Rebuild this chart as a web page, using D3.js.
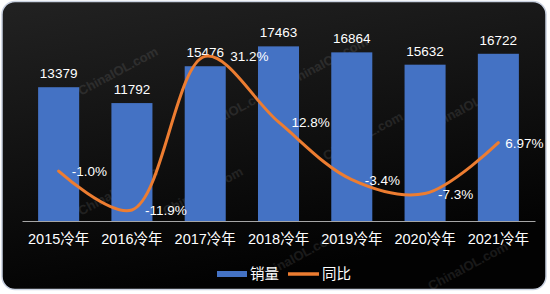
<!DOCTYPE html>
<html>
<head>
<meta charset="utf-8">
<script src="https://cdn.jsdelivr.net/npm/d3@7"></script>
<style>
  body { margin: 0; background: #fff; }
  svg { display: block; font-family: "Liberation Sans", Arial, "Noto Sans CJK SC", sans-serif; }
</style>
</head>
<body>
<svg id="chart"></svg>
<script>
// Data
const years = ["2015冷年", "2016冷年", "2017冷年", "2018冷年", "2019冷年", "2020冷年", "2021冷年"];
const sales = [13379, 11792, 15476, 17463, 16864, 15632, 16722];
const yoy = [-1.0, -11.9, 31.2, 12.8, -3.4, -7.3, 6.97];
const yoyLabels = ["-1.0%", "-11.9%", "31.2%", "12.8%", "-3.4%", "-7.3%", "6.97%"];
const legendNames = ["销量", "同比"];

const width = 550, height = 294;
const blue = "#4472C4", orange = "#ED7D31";

const svg = d3.select("#chart")
  .attr("width", width)
  .attr("height", height);

// background panel
const defs = svg.append("defs");
const grad = defs.append("linearGradient")
  .attr("id", "bg").attr("x1", 0).attr("y1", 0).attr("x2", 0.3).attr("y2", 1);
grad.append("stop").attr("offset", "0%").attr("stop-color", "#222");
grad.append("stop").attr("offset", "100%").attr("stop-color", "#020202");

svg.append("rect")
  .attr("x", 2).attr("y", 1.5)
  .attr("width", 544).attr("height", 288)
  .attr("rx", 13)
  .attr("fill", "url(#bg)")
  .attr("stroke", "#c9d1e0")
  .attr("stroke-width", 1.5);

// scales
const x = d3.scaleBand()
  .domain(years)
  .range([22, 535])
  .paddingInner(0.44)
  .paddingOuter(0.22);

const y = d3.scaleLinear().domain([0, 20000]).range([221, 21]);
const y2 = d3.scaleLinear().domain([-15, 40]).range([221, 25]);

// faint watermark
const marks = [[120, 75], [235, 115], [330, 65], [120, 195], [205, 195], [365, 140], [470, 110], [300, 260], [470, 270]];
svg.append("g").selectAll("text")
  .data(marks)
  .join("text")
  .attr("transform", d => `translate(${d[0]},${d[1]}) rotate(-28)`)
  .attr("text-anchor", "middle")
  .attr("fill", "#fff")
  .attr("opacity", 0.09)
  .attr("font-size", 13)
  .attr("font-weight", "bold")
  .text("ChinaIOL.com");

// bars
svg.append("g").selectAll("rect")
  .data(years)
  .join("rect")
  .attr("x", d => x(d))
  .attr("y", (d, i) => y(sales[i]))
  .attr("width", x.bandwidth())
  .attr("height", (d, i) => y(0) - y(sales[i]))
  .attr("fill", blue);

// x axis
const xAxis = svg.append("g")
  .attr("transform", `translate(0,${y(0)})`)
  .call(d3.axisBottom(x).tickSize(0).tickPadding(13));
xAxis.select(".domain").attr("stroke", "#a6a6a6").attr("stroke-width", 1.2);
xAxis.selectAll("text")
  .attr("fill", "#fff")
  .attr("font-size", 14.5)
  .attr("font-family", "Liberation Sans, Arial, Noto Sans CJK SC, sans-serif");

// value labels
svg.append("g").selectAll("text")
  .data(years)
  .join("text")
  .attr("x", d => x(d) + x.bandwidth() / 2)
  .attr("y", (d, i) => y(sales[i]) - 9)
  .attr("text-anchor", "middle")
  .attr("fill", "#fff")
  .attr("font-size", 13.5)
  .text((d, i) => sales[i]);

// yoy line
const pts = years.map((d, i) => [x(d) + x.bandwidth() / 2, y2(yoy[i])]);
svg.append("path")
  .datum(pts)
  .attr("fill", "none")
  .attr("stroke", orange)
  .attr("stroke-width", 3)
  .attr("stroke-linecap", "round")
  .attr("d", d3.line().curve(d3.curveCatmullRom.alpha(0.5)));

// yoy labels
const labelDx = [13, 13, 25, 13, 13, 13, 7];
svg.append("g").selectAll("text")
  .data(pts)
  .join("text")
  .attr("x", (d, i) => d[0] + labelDx[i])
  .attr("y", d => d[1])
  .attr("dy", "0.38em")
  .attr("fill", "#fff")
  .attr("font-size", 13.5)
  .text((d, i) => yoyLabels[i]);

// legend
const legend = svg.append("g").attr("font-size", 14.5).attr("fill", "#fff");
legend.append("rect")
  .attr("x", 217).attr("y", 271).attr("width", 30).attr("height", 6)
  .attr("fill", blue);
legend.append("text").attr("x", 250).attr("y", 279).text(legendNames[0]);
legend.append("line")
  .attr("x1", 288).attr("x2", 319).attr("y1", 274).attr("y2", 274)
  .attr("stroke", orange).attr("stroke-width", 3.5);
legend.append("text").attr("x", 322).attr("y", 279).text(legendNames[1]);
</script>
</body>
</html>
